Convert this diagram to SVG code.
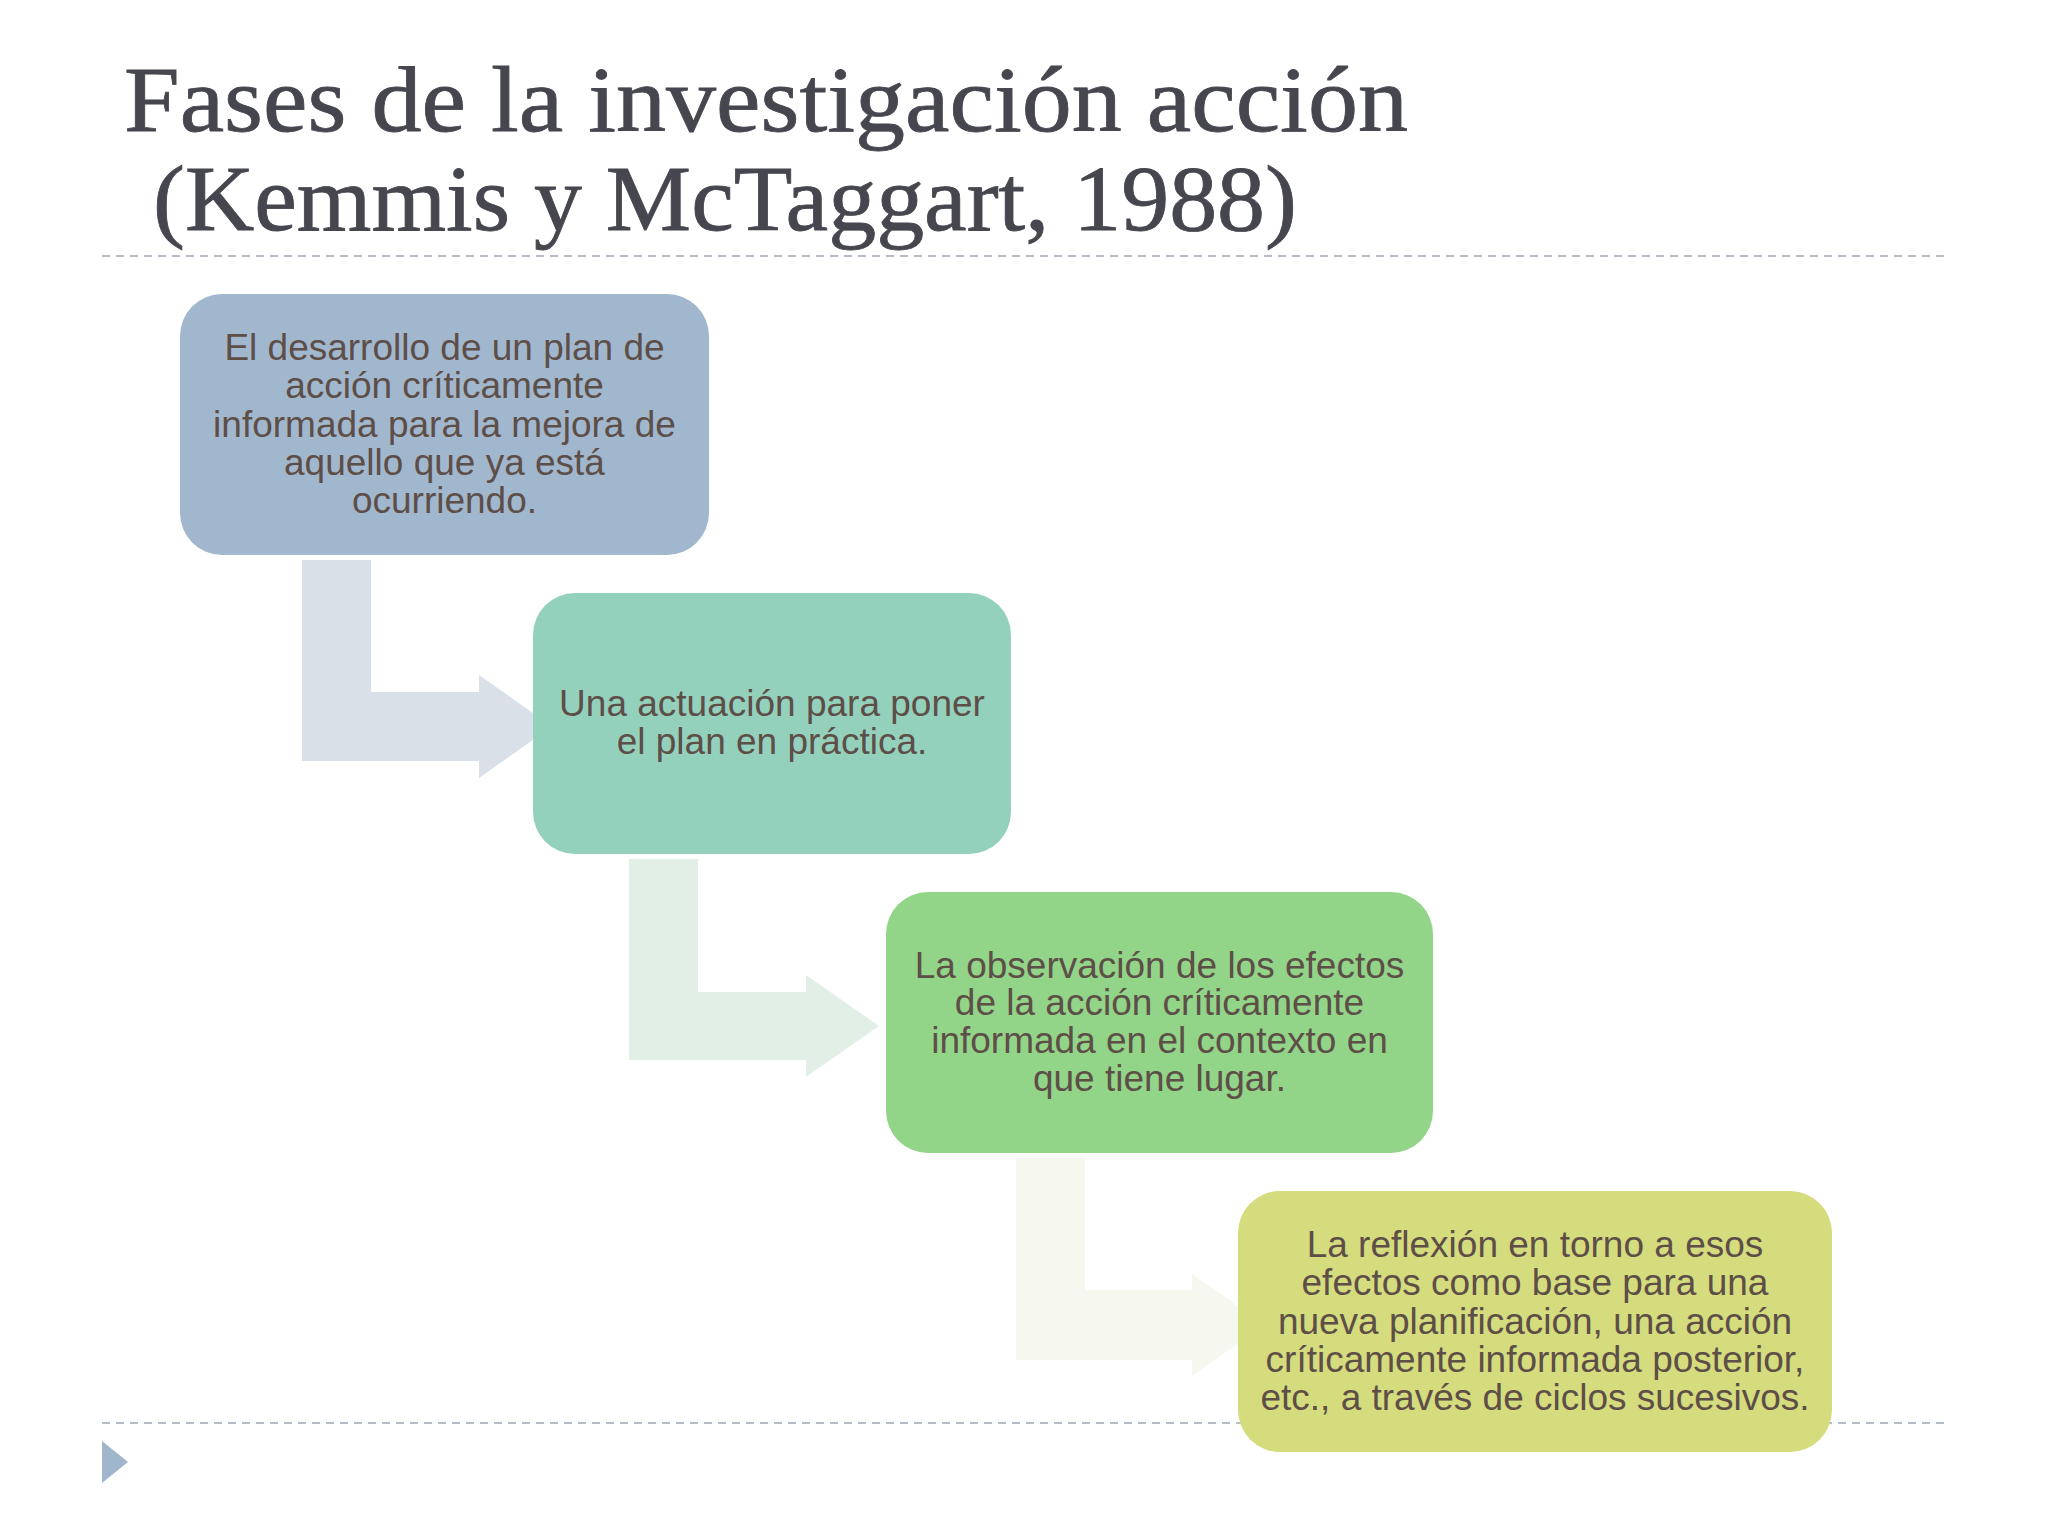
<svg xmlns="http://www.w3.org/2000/svg" width="2048" height="1536" viewBox="0 0 2048 1536">
<style>
.title{font-family:"Liberation Serif","Times New Roman",serif;font-size:94px;fill:#46464f;stroke:#46464f;stroke-width:0.8}
.lbl{font-family:"Liberation Sans",Arial,sans-serif;font-size:37px;fill:#5e4e48;text-anchor:middle}
.rule{stroke:#b4bcc6;stroke-width:2;stroke-dasharray:8 6;fill:none}
</style>
<rect x="0" y="0" width="2048" height="1536" fill="#ffffff"/>
<g id="title">
<text class="title" x="124" y="131" textLength="1284" lengthAdjust="spacingAndGlyphs">Fases de la investigación acción</text>
<text class="title" x="153" y="230" textLength="1144" lengthAdjust="spacingAndGlyphs">(Kemmis y McTaggart, 1988)</text>
</g>
<g id="rules">
<line class="rule" x1="102" y1="256" x2="1946" y2="256"/>
<line class="rule" x1="102" y1="1423" x2="1946" y2="1423"/>
</g>
<polygon id="bullet" points="102,1441 128,1462 102,1483" fill="#9fb6cd"/>
<g id="connectors">
<path id="arrow1" d="M302,560 H371 V692 H479 V675 L552,726.5 L479,778 V761 H302 Z" fill="#d9e0e8"/>
<path id="arrow2" d="M629,859 H698 V992 H806 V975 L879,1026 L806,1077 V1060 H629 Z" fill="#e2efe6"/>
<path id="arrow3" d="M1016,1158 H1085 V1290 H1192 V1274 L1265,1325 L1192,1376 V1360 H1016 Z" fill="#f6f8ef"/>
</g>
<g id="node1">
<rect x="180" y="294" width="529" height="261" rx="42" fill="#a1b7ce"/>
<text class="lbl" x="444.5" y="360">El desarrollo de un plan de</text>
<text class="lbl" x="444.5" y="398">acción críticamente</text>
<text class="lbl" x="444.5" y="437">informada para la mejora de</text>
<text class="lbl" x="444.5" y="475">aquello que ya está</text>
<text class="lbl" x="444.5" y="513">ocurriendo.</text>
</g>
<g id="node2">
<rect x="533" y="593" width="478" height="261" rx="42" fill="#93d1bd"/>
<text class="lbl" x="772" y="716">Una actuación para poner</text>
<text class="lbl" x="772" y="754">el plan en práctica.</text>
</g>
<g id="node3">
<rect x="886" y="892" width="547" height="261" rx="42" fill="#92d488"/>
<text class="lbl" x="1159.5" y="978">La observación de los efectos</text>
<text class="lbl" x="1159.5" y="1015">de la acción críticamente</text>
<text class="lbl" x="1159.5" y="1053">informada en el contexto en</text>
<text class="lbl" x="1159.5" y="1091">que tiene lugar.</text>
</g>
<g id="node4">
<rect x="1238" y="1191" width="594" height="261" rx="42" fill="#d4dc7d"/>
<text class="lbl" x="1535" y="1257">La reflexión en torno a esos</text>
<text class="lbl" x="1535" y="1295">efectos como base para una</text>
<text class="lbl" x="1535" y="1334">nueva planificación, una acción</text>
<text class="lbl" x="1535" y="1372">críticamente informada posterior,</text>
<text class="lbl" x="1535" y="1410">etc., a través de ciclos sucesivos.</text>
</g>
</svg>
